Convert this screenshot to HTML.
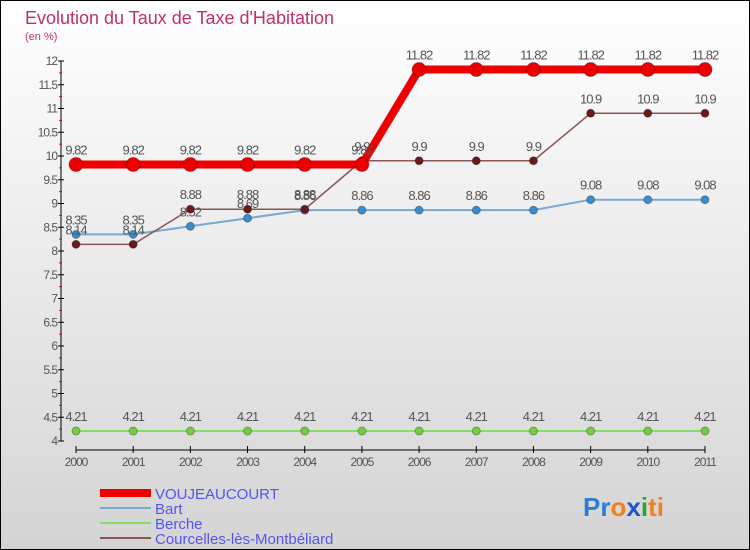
<!DOCTYPE html>
<html><head><meta charset="utf-8"><style>
body{margin:0;width:750px;height:550px;overflow:hidden;font-family:"Liberation Sans",sans-serif}
svg{display:block}
</style></head><body>
<svg id="c" width="750" height="550" xmlns="http://www.w3.org/2000/svg">
<defs><linearGradient id="bg" x1="0" y1="0" x2="0" y2="1"><stop offset="0" stop-color="#ffffff"/><stop offset="1" stop-color="#d4d4d4"/></linearGradient></defs>
<rect x="0.5" y="0.5" width="749" height="549" fill="url(#bg)" stroke="#000"/>
<text x="25" y="24" font-size="18" fill="#c0306a">Evolution du Taux de Taxe d'Habitation</text>
<text x="25" y="40" font-size="11" fill="#c0306a">(en %)</text>
<g id="axes"></g><g id="series"></g>
<g>
<rect x="100" y="489" width="51" height="8" fill="#e00"/>
<text x="155" y="499" font-size="15" fill="#5555ee">VOUJEAUCOURT</text>
<line x1="100" y1="508" x2="151" y2="508" stroke="#7aa8d0" stroke-width="2"/>
<text x="155" y="514" font-size="15" fill="#5555ee">Bart</text>
<line x1="100" y1="523" x2="151" y2="523" stroke="#88dd66" stroke-width="2"/>
<text x="155" y="529" font-size="15" fill="#5555ee">Berche</text>
<line x1="100" y1="538" x2="151" y2="538" stroke="#8a5555" stroke-width="2"/>
<text x="155" y="544" font-size="15" fill="#5555ee">Courcelles-lès-Montbéliard</text>
</g>
<text x="583" y="516" font-size="26" font-weight="bold"><tspan fill="#2a7fd0">Pr</tspan><tspan fill="#f08020">o</tspan><tspan fill="#2255cc">x</tspan><tspan fill="#30a030">i</tspan><tspan fill="#f08020">ti</tspan></text>
</svg>
<script>
const years=["2000","2001","2002","2003","2004","2005","2006","2007","2008","2009","2010","2011"];
const vouj=[9.82,9.82,9.82,9.82,9.82,9.82,11.82,11.82,11.82,11.82,11.82,11.82];
const bart=[8.35,8.35,8.52,8.69,8.86,8.86,8.86,8.86,8.86,9.08,9.08,9.08];
const berche=[4.21,4.21,4.21,4.21,4.21,4.21,4.21,4.21,4.21,4.21,4.21,4.21];
const courc=[8.14,8.14,8.88,8.88,8.88,9.9,9.9,9.9,9.9,10.9,10.9,10.9];
const yTicks=[4,4.5,5,5.5,6,6.5,7,7.5,8,8.5,9,9.5,10,10.5,11,11.5,12];
const NS="http://www.w3.org/2000/svg";
const X=i=>76+i*(705-76)/(years.length-1);
const Y=v=>441-(v-4)*(441-61)/8;
function mk(t,a,p){const e=document.createElementNS(NS,t);for(const k in a)e.setAttribute(k,a[k]);p.appendChild(e);return e;}
const ax=document.getElementById('axes');
let l=mk('line',{x1:61,y1:Y(12),x2:61,y2:Y(4),stroke:'#000'},ax);


yTicks.forEach((v,k)=>{
 mk('line',{x1:58,y1:Y(v),x2:64,y2:Y(v),stroke:'#000'},ax);
 if(k<yTicks.length-1) mk('line',{x1:59,y1:Y(v+0.25),x2:62,y2:Y(v+0.25),stroke:'#e00'},ax);
 const t=mk('text',{x:57,y:Y(v)+4,'font-size':12,'text-anchor':'end',fill:'#555','letter-spacing':'-1'},ax);t.textContent=v;
 
 
});
l=mk('line',{x1:X(0),y1:450,x2:X(11),y2:450,stroke:'#000'},ax);


years.forEach((y,i)=>{
 mk('line',{x1:X(i),y1:446,x2:X(i),y2:453,stroke:'#000'},ax);
 const t=mk('text',{x:X(i),y:466,'font-size':12,'text-anchor':'middle',fill:'#555','letter-spacing':'-1'},ax);t.textContent=y;
 
 
});
const sg=document.getElementById('series');
function series(name,vals,color,w,r,dot){
 const g=mk('g',{},sg);
 
 
 mk('polyline',{points:vals.map((v,i)=>X(i)+','+Y(v)).join(' '),fill:'none',stroke:color,'stroke-width':w},g);
 vals.forEach((v,i)=>{
  const c=mk('circle',{cx:X(i),cy:Y(v),r:r,fill:dot,stroke:'rgba(0,0,0,0.3)','stroke-width':1},g);
  
  
  const t=mk('text',{x:X(i),y:Y(v)-10,'font-size':13,'text-anchor':'middle',fill:'#555','letter-spacing':'-1'},g);t.textContent=v;
  
  
 });
}
series('berche',berche,'#88dd66',2,4,'#77cc44');
series('bart',bart,'#7aa8d0',2,4,'#3a8ccc');
series('courcelles',courc,'#8a5555',1.5,4,'#6a1a1a');
series('voujeaucourt',vouj,'#ee0000',8,7,'#ee0000');
</script>
</body></html>
